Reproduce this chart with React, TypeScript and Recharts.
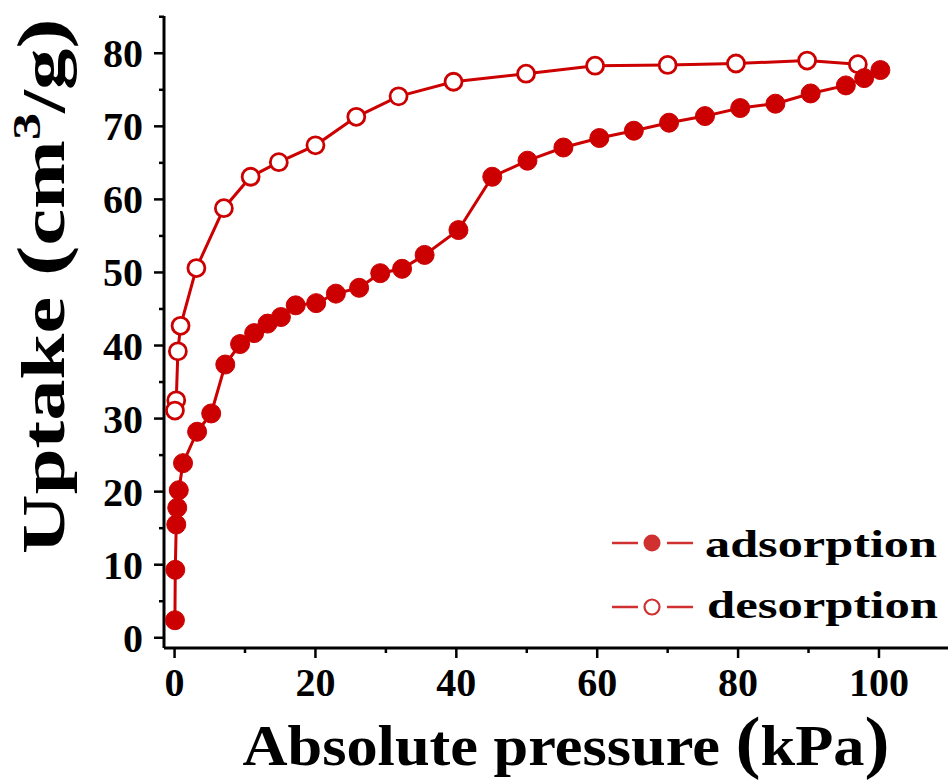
import { Legend, Line, LineChart, XAxis, YAxis } from 'recharts'

const adsPressure = [0.05, 0.1, 0.24, 0.38, 0.6, 1.2, 3.2, 5.2, 7.2, 9.3, 11.3, 13.2, 15.1, 17.2, 20.1, 22.9, 26.2, 29.2, 32.3, 35.5, 40.3, 45.1, 50.1, 55.2, 60.3, 65.2, 70.2, 75.3, 80.3, 85.3, 90.3, 95.3, 97.9, 100.2]
const adsUptake = [2.4, 9.3, 15.5, 17.8, 20.2, 23.9, 28.2, 30.7, 37.4, 40.2, 41.7, 43.0, 43.9, 45.5, 45.8, 47.1, 47.9, 49.9, 50.5, 52.4, 55.8, 63.1, 65.3, 67.1, 68.4, 69.4, 70.5, 71.4, 72.5, 73.1, 74.5, 75.6, 76.6, 77.7]

const desPressure = [97.0, 89.8, 79.7, 70.0, 59.7, 49.9, 39.6, 31.8, 25.8, 20.0, 14.8, 10.8, 7.0, 3.1, 0.85, 0.47, 0.24, 0.05]
const desUptake = [78.5, 79.0, 78.6, 78.4, 78.3, 77.2, 76.1, 74.1, 71.3, 67.4, 65.1, 63.1, 58.8, 50.6, 42.7, 39.2, 32.5, 31.1]

const xTicks = [0, 10, 20, 30, 40, 50, 60, 70, 80, 90, 100]
const yTicks = [0, 5, 10, 15, 20, 25, 30, 35, 40, 45, 50, 55, 60, 65, 70, 75, 80, 85]

const seriesNames = ['adsorption', 'desorption']

const adsData = adsPressure.map((p, i) => ({ pressure: p, uptake: adsUptake[i] }))
const desData = desPressure.map((p, i) => ({ pressure: p, uptake: desUptake[i] }))

const RED = '#cc0000'
const FONT = "'Liberation Serif', 'Times New Roman', Times, serif"
const textStyle = { fontFamily: FONT, fontWeight: 700 }
const xDomain = [-1.5, 109.8]
const yDomain = [-1.4, 85.1]

function YTick(props: any) {
  const { x, y, payload } = props
  const major = payload.value % 10 === 0
  return (
    <g>
      <line x1={x} x2={x - (major ? 10 : 5)} y1={y} y2={y} stroke="#000" strokeWidth={2.5} />
      {major && (
        <text x={x - 21} y={y + 14} textAnchor="end" style={textStyle} fontSize={40} fill="#000">
          {payload.value}
        </text>
      )}
    </g>
  )
}

function XTick(props: any) {
  const { x, y, payload } = props
  const major = payload.value % 20 === 0
  return (
    <g>
      <line x1={x} x2={x} y1={y} y2={y + (major ? 10 : 5)} stroke="#000" strokeWidth={2.5} />
      {major && (
        <text x={x} y={y + 48} textAnchor="middle" style={textStyle} fontSize={40} fill="#000">
          {payload.value}
        </text>
      )}
    </g>
  )
}

function XTitle(props: any) {
  const { x, y, width } = props.viewBox
  return (
    <text
      x={x + width / 2 + 10}
      y={y + 117}
      textAnchor="middle"
      style={textStyle}
      fontSize={58}
      fill="#000"
      textLength={647}
      lengthAdjust="spacingAndGlyphs"
    >
      Absolute pressure <tspan fontSize={70}>(</tspan>kPa<tspan fontSize={70}>)</tspan>
    </text>
  )
}

function YTitle(props: any) {
  const { y, height } = props.viewBox
  const cx = 64
  const cy = y + height / 2 - 46
  return (
    <text
      transform={`translate(${cx},${cy}) rotate(-90)`}
      x={0}
      y={0}
      textAnchor="middle"
      style={textStyle}
      fontSize={61}
      fill="#000"
      textLength={536}
      lengthAdjust="spacingAndGlyphs"
    >
      Uptake <tspan fontSize={68}>(</tspan>cm<tspan fontSize={40} dy={-24}>3</tspan>
      <tspan dy={24}>/g</tspan>
      <tspan fontSize={68}>)</tspan>
    </text>
  )
}

function LegendBox() {
  const color = '#d03030'
  return (
    <svg width={350} height={130}>
      <line x1={12} x2={38} y1={33} y2={33} stroke={color} strokeWidth={2.5} />
      <line x1={67} x2={93} y1={33} y2={33} stroke={color} strokeWidth={2.5} />
      <circle cx={52} cy={33} r={8.5} fill={color} />
      <text x={105} y={47} style={textStyle} fontSize={38} textLength={232} lengthAdjust="spacingAndGlyphs">
        {seriesNames[0]}
      </text>
      <line x1={12} x2={38} y1={97} y2={97} stroke={color} strokeWidth={2.5} />
      <line x1={67} x2={93} y1={97} y2={97} stroke={color} strokeWidth={2.5} />
      <circle cx={52} cy={97} r={7.5} fill="#fff" stroke={color} strokeWidth={2.2} />
      <text x={107} y={108} style={textStyle} fontSize={38} textLength={231} lengthAdjust="spacingAndGlyphs">
        {seriesNames[1]}
      </text>
    </svg>
  )
}

export default function App() {
  return (
    <div style={{ position: 'absolute', left: 0, top: 0, width: 951, height: 780, background: '#fff' }}>
      <LineChart width={951} height={780} margin={{ top: 16, right: 3, bottom: 0, left: 0 }}>
        <XAxis
          dataKey="pressure"
          type="number"
          domain={xDomain}
          ticks={xTicks}
          allowDataOverflow
          height={132}
          tickSize={0}
          tickMargin={0}
          tickLine={false}
          tick={<XTick />}
          axisLine={{ stroke: '#000', strokeWidth: 3 }}
          label={<XTitle />}
        />
        <XAxis xAxisId="top" orientation="top" type="number" domain={xDomain} height={0} tick={false} tickLine={false} axisLine={{ stroke: '#000', strokeWidth: 3 }} />
        <YAxis
          type="number"
          domain={yDomain}
          ticks={yTicks}
          allowDataOverflow
          width={164}
          tickSize={0}
          tickMargin={0}
          tickLine={false}
          tick={<YTick />}
          axisLine={{ stroke: '#000', strokeWidth: 3 }}
          label={<YTitle />}
        />
        <YAxis yAxisId="right" orientation="right" type="number" domain={yDomain} width={0} tick={false} tickLine={false} axisLine={{ stroke: '#000', strokeWidth: 3 }} />
        <Legend
          layout="horizontal"
          verticalAlign="middle"
          align="center"
          content={<LegendBox />}
          wrapperStyle={{ position: 'absolute', left: 600, top: 510, width: 350, height: 130 }}
        />
        <Line
          data={desData}
          dataKey="uptake"
          name={seriesNames[1]}
          type="linear"
          stroke={RED}
          strokeWidth={3}
          dot={{ r: 8.5, fill: '#fff', stroke: RED, strokeWidth: 2.8 }}
          activeDot={false}
          isAnimationActive={false}
        />
        <Line
          data={adsData}
          dataKey="uptake"
          name={seriesNames[0]}
          type="linear"
          stroke={RED}
          strokeWidth={3}
          dot={{ r: 9.5, fill: RED, stroke: RED, strokeWidth: 1 }}
          activeDot={false}
          isAnimationActive={false}
        />
      </LineChart>
    </div>
  )
}
